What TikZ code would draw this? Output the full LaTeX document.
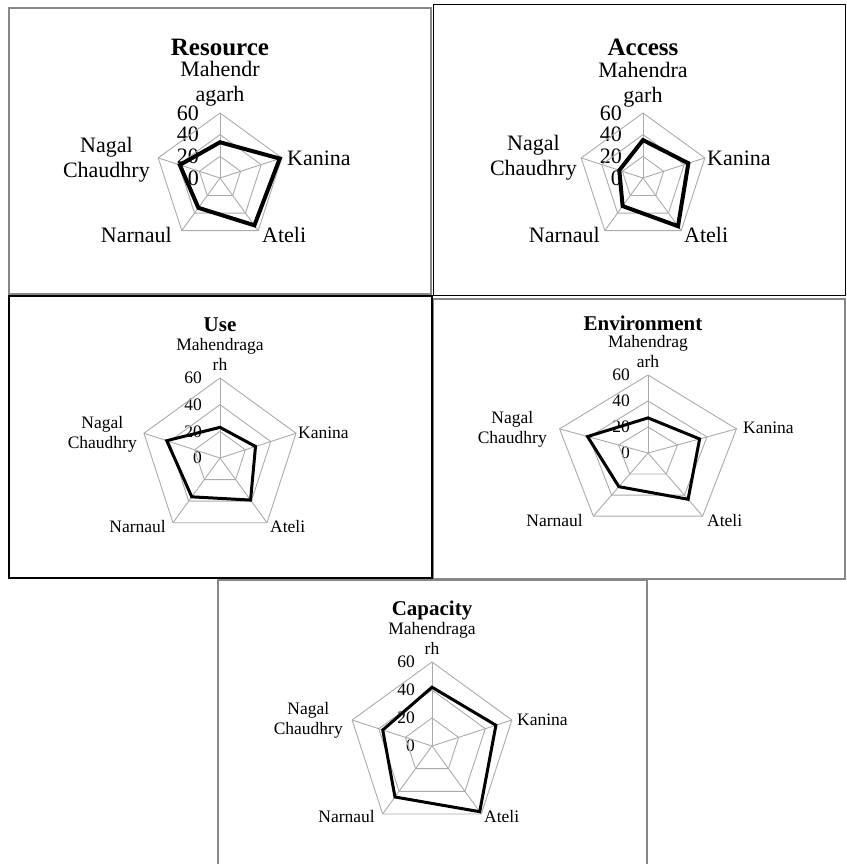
\documentclass[tikz,border=0pt]{standalone}
\usepackage{fontspec}
\setmainfont{Liberation Serif}
\begin{document}
\begin{tikzpicture}[x=1pt, y=-1pt,
        % common styles
        frame/.style={draw=black!47, line width=2pt}, % gray panel frame
        grid line/.style={draw=black!33, line width=0.9pt}, % web lines
        data line/.style={draw=black, line width=4pt}, % data polygon
        thin data/.style={draw=black, line width=3pt},
        big title/.style={font=\fontsize{25}{28}\selectfont\bfseries},
        big label/.style={font=\fontsize{22}{25}\selectfont, inner sep=0pt, align=center},
        small title/.style={font=\fontsize{21}{24}\selectfont\bfseries},
        small label/.style={font=\fontsize{17.5}{20}\selectfont, inner sep=0pt, align=center}
    ]
    \useasboundingbox (0,0) rectangle (846,864);

    % --- frames ---
    \draw[frame] (9,8) rectangle (431,294);
    \draw[black, line width=1pt] (433,5) rectangle (845,295);
    \draw[black, line width=2pt] (9,296) rectangle (432,578);
    \draw[draw=black!47, line width=1.5pt] (433.5,299) rectangle (845,579);
    \draw[frame] (218,866) -- (218,580) -- (647,580) -- (647,866);

    % --- Resource ---
    \begin{scope}[shift={(220,178)}]
        \node[big title] (res-title) at (0,-131) {Resource};
        \node[big label] (res-mah) at (0,-94) {Mahendr\\agarh};
        \node[big label, anchor=west] (res-kan) at (67,-20) {Kanina};
        \node[big label, anchor=east] (res-nag) at (-70,-18) {Nagal\\Chaudhry};
        \node[big label, anchor=east] (res-nar) at (-48,57) {Narnaul};
        \node[big label, anchor=west] (res-ate) at (42,57) {Ateli};
        \foreach \v in {0,20,40,60}
            \node[big label, anchor=east] (res-\v) at (-21,{-\v*65/60}) {\v};
        \begin{scope}[scale=65/60]
            \foreach \v in {20,40,60}
                \draw[grid line] (-90:\v) -- (-18:\v) -- (54:\v) -- (126:\v) -- (198:\v) -- cycle;
            \foreach \a in {-90,-18,54,126,198}
                \draw[grid line] (0,0) -- (\a:60);
            \draw[data line] (-90:33) -- (-18:58) -- (54:54) -- (126:34) -- (198:39) -- cycle;
        \end{scope}
    \end{scope}

    % --- Access ---
    \begin{scope}[shift={(643,178)}]
        \node[big title] (acc-title) at (0,-131) {Access};
        \node[big label] (acc-mah) at (0,-93) {Mahendra\\garh};
        \node[big label, anchor=west] (acc-kan) at (64,-20) {Kanina};
        \node[big label, anchor=east] (acc-nag) at (-66,-20) {Nagal\\Chaudhry};
        \node[big label, anchor=east] (acc-nar) at (-43,57) {Narnaul};
        \node[big label, anchor=west] (acc-ate) at (41,57) {Ateli};
        \foreach \v in {0,20,40,60}
            \node[big label, anchor=east] (acc-\v) at (-21,{-\v*65/60}) {\v};
        \begin{scope}[scale=65/60]
            \foreach \v in {20,40,60}
                \draw[grid line] (-90:\v) -- (-18:\v) -- (54:\v) -- (126:\v) -- (198:\v) -- cycle;
            \foreach \a in {-90,-18,54,126,198}
                \draw[grid line] (0,0) -- (\a:60);
            \draw[data line] (-90:35) -- (-18:44) -- (54:55) -- (126:32) -- (198:23) -- cycle;
        \end{scope}
    \end{scope}

    % --- Use ---
    \begin{scope}[shift={(220,458)}]
        \node[small title] (use-title) at (0,-133) {Use};
        \node[small label] (use-mah) at (0,-104) {Mahendraga\\rh};
        \node[small label, anchor=west] (use-kan) at (78,-25) {Kanina};
        \node[small label, anchor=east] (use-nag) at (-83,-24) {Nagal\\Chaudhry};
        \node[small label, anchor=east] (use-nar) at (-54,69) {Narnaul};
        \node[small label, anchor=west] (use-ate) at (50,69) {Ateli};
        \foreach \v in {0,20,40,60}
            \node[small label, anchor=east] (use-\v) at (-18,{-\v*80/60}) {\v};
        \begin{scope}[scale=80/60]
            \foreach \v in {20,40,60}
                \draw[grid line] (-90:\v) -- (-18:\v) -- (54:\v) -- (126:\v) -- (198:\v) -- cycle;
            \foreach \a in {-90,-18,54,126,198}
                \draw[grid line] (0,0) -- (\a:60);
            \draw[thin data] (-90:23) -- (-18:28) -- (54:39) -- (126:36) -- (198:42) -- cycle;
        \end{scope}
    \end{scope}

    % --- Environment (stretched sideways) ---
    \begin{scope}[shift={(648,453)}]
        \node[small title] (env-title) at (-5,-130) {Environment};
        \node[small label] (env-mah) at (0,-101) {Mahendrag\\arh};
        \node[small label, anchor=west] (env-kan) at (95,-25) {Kanina};
        \node[small label, anchor=east] (env-nag) at (-101,-24) {Nagal\\Chaudhry};
        \node[small label, anchor=east] (env-nar) at (-65,68) {Narnaul};
        \node[small label, anchor=west] (env-ate) at (59,68) {Ateli};
        \foreach \v in {0,20,40,60}
            \node[small label, anchor=east] (env-\v) at (-18,{-\v*78/60}) {\v};
        \begin{scope}[xscale=93/60, yscale=78/60]
            \foreach \v in {20,40,60}
                \draw[grid line] (-90:\v) -- (-18:\v) -- (54:\v) -- (126:\v) -- (198:\v) -- cycle;
            \foreach \a in {-90,-18,54,126,198}
                \draw[grid line] (0,0) -- (\a:60);
            \draw[thin data] (-90:27) -- (-18:35) -- (54:44) -- (126:32) -- (198:41) -- cycle;
        \end{scope}
    \end{scope}

    % --- Capacity ---
    \begin{scope}[shift={(432,746)}]
        \node[small title] (cap-title) at (0,-136) {Capacity};
        \node[small label] (cap-mah) at (0,-108) {Mahendraga\\rh};
        \node[small label, anchor=west] (cap-kan) at (85,-26) {Kanina};
        \node[small label, anchor=east] (cap-nag) at (-89,-26) {Nagal\\Chaudhry};
        \node[small label, anchor=east] (cap-nar) at (-57,71) {Narnaul};
        \node[small label, anchor=west] (cap-ate) at (52,71) {Ateli};
        \foreach \v in {0,20,40,60}
            \node[small label, anchor=east] (cap-\v) at (-17,{-\v*84/60}) {\v};
        \begin{scope}[scale=84/60]
            \foreach \v in {20,40,60}
                \draw[grid line] (-90:\v) -- (-18:\v) -- (54:\v) -- (126:\v) -- (198:\v) -- cycle;
            \foreach \a in {-90,-18,54,126,198}
                \draw[grid line] (0,0) -- (\a:60);
            \draw[thin data] (-90:42) -- (-18:48) -- (54:58) -- (126:45) -- (198:37) -- cycle;
        \end{scope}
    \end{scope}

\end{tikzpicture}
\end{document}
